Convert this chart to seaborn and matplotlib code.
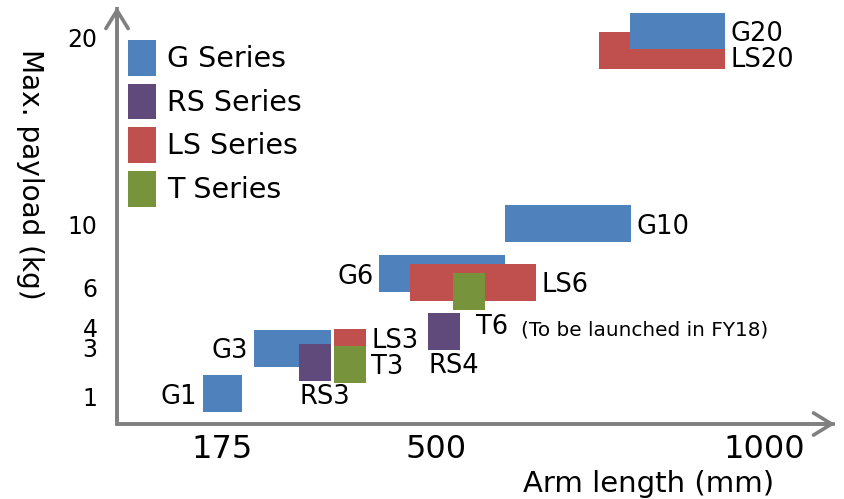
import pandas as pd
import matplotlib.pyplot as plt
import seaborn as sns

sns.set_theme(style="white")
plt.rcParams['font.family'] = ['DejaVu Sans']

# ---- data (x in mm, y in chart rows) ----
names   = ["G1", "G3", "RS3", "LS3", "T3", "RS4", "G6", "LS6", "T6", "G10", "LS20", "G20"]
series  = ["G", "G", "RS", "LS", "T", "RS", "G", "LS", "T", "G", "LS", "G"]
x_left  = [145, 223, 292, 345, 345, 488, 413, 460, 526, 605, 748, 795]
x_right = [205, 340, 340, 393, 393, 537, 605, 652, 575, 797, 940, 940]
y_low   = [12, 57, 43, 78, 41, 74, 132, 123, 114, 182, 355, 375]
y_high  = [49, 94, 80, 95, 78, 111, 169, 160, 151, 219, 392, 411]
label_side = ["left", "left", "below", "right", "right", "below",
              "left", "right", "t6", "right", "right_low", "right"]

x_ticks = [175, 500, 1000]
y_tick_pos = [27.5, 76.5, 96.5, 136.5, 199.5, 386.5]
y_tick_labels = ["1", "3", "4", "6", "10", "20"]

series_names = ["G", "RS", "LS", "T"]
palette = dict(zip(series_names, ["#4F81BD", "#604A7B", "#C0504D", "#77933C"]))

df = pd.DataFrame({"name": names, "series": series, "x0": x_left, "x1": x_right,
                   "y0": y_low, "y1": y_high, "side": label_side})

# ---- figure ----
fig = plt.figure(figsize=(8.44, 4.99), dpi=100)
ax = fig.add_axes([117 / 844, 75 / 499, 718 / 844, 417 / 499])
ax.set_xlim(14.5, 1107)
ax.set_ylim(0, 417)
for s in ax.spines.values():
    s.set_visible(False)

# boxes
for i, r in df.iterrows():
    ax.bar(r.x0, r.y1 - r.y0, width=r.x1 - r.x0, bottom=r.y0, align="edge",
           color=palette[r.series], linewidth=0, zorder=2 + i)

# box labels
lab_fs = 18.5
for _, r in df.iterrows():
    ym = (r.y0 + r.y1) / 2
    if r.side == "left":
        xy, off, ha, va = (r.x0, ym), (-4, 0), "right", "center_baseline"
    elif r.side == "right":
        xy, off, ha, va = (r.x1, ym), (4, 0), "left", "center_baseline"
    elif r.side == "right_low":
        xy, off, ha, va = (r.x1, ym), (4, -5), "left", "center_baseline"
    elif r.side == "below":
        xy, off, ha, va = (r.x0, r.y0), (0, -2), "left", "top"
    else:  # T6 sits below right corner
        xy, off, ha, va = (r.x1, r.y0), (-7, -3), "left", "top"
    ax.annotate(r["name"], xy=xy, xytext=off, textcoords="offset points",
                ha=ha, va=va, fontsize=lab_fs, color="black", zorder=20)

t6 = df[df.name == "T6"].iloc[0]
ax.annotate("(To be launched in FY18)", xy=(t6.x1, t6.y0), xytext=(26, -7.5),
            textcoords="offset points", ha="left", va="top", fontsize=14.4,
            color="black", zorder=20)

# axes with arrows
axis_col = "#808080"
ax.plot([0, 0, 1], [1, 0, 0], transform=ax.transAxes, color=axis_col, lw=2.6,
        solid_joinstyle="miter", solid_capstyle="butt", clip_on=False, zorder=30)
for tip in [(1, 0), (0, 1)]:
    ax.annotate("", xy=tip, xytext=(0, 0), xycoords="axes fraction",
                arrowprops=dict(arrowstyle="->,head_length=0.65,head_width=0.4",
                                color=axis_col, lw=2.6, shrinkA=0, shrinkB=0,
                                mutation_scale=20), zorder=30)

# ticks
ax.set_xticks(x_ticks)
ax.set_xticklabels([str(v) for v in x_ticks])
ax.set_yticks(y_tick_pos)
ax.set_yticklabels(y_tick_labels)
ax.tick_params(axis="x", length=0, pad=7, labelsize=23, colors="black")
ax.tick_params(axis="y", length=0, pad=14, labelsize=17, colors="black")
ax.grid(False)

ax.set_xlabel("Arm length (mm)", fontsize=21, color="black", va="center")
ax.xaxis.set_label_coords((649 - 117) / 718, (424 - 484) / 417)
ax.set_ylabel("Max. payload (kg)", fontsize=20.2, color="black", rotation=270,
              va="center", ha="center")
ax.yaxis.set_label_coords((30 - 117) / 718, (424 - 174) / 417)

# legend
handles = [plt.Rectangle((0, 0), 1, 1, color=palette[s], linewidth=0) for s in series_names]
leg = ax.legend(handles, [s + " Series" for s in series_names], loc="upper left",
                bbox_to_anchor=((128 - 117) / 718, (424 - 40) / 417), borderaxespad=0,
                borderpad=0, frameon=False, fontsize=20.5, handlelength=0.98,
                handleheight=1.55, handletextpad=0.39, labelspacing=0.28)
for t in leg.get_texts():
    t.set_color("black")

plt.savefig("out.png", dpi=100)
